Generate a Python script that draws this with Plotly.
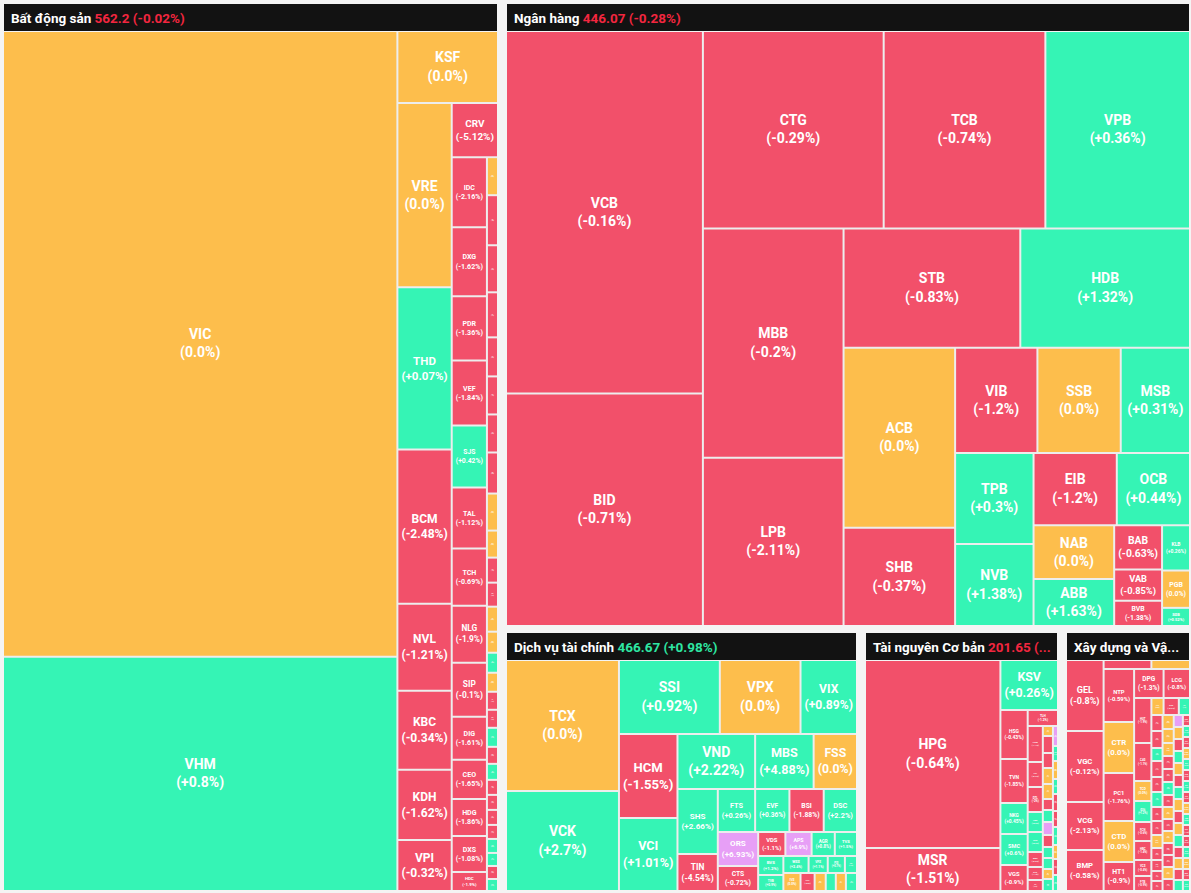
import plotly.graph_objects as go

# ---------------- colours ----------------
RED = "#F2506A"
GREEN = "#35F4B5"
ORANGE = "#FDBE4C"
PURPLE = "#E79FF6"
CYAN = "#5AD2F0"
GAP = "#EDEDED"
BG = "#F4F4F4"
HEAD = "#121212"
UP_TXT = "#2EE6A2"
DOWN_TXT = "#F2263F"
W, H = 1191, 893

# ---------------- data: Bất động sản ----------------
bds_tickers = ["VIC", "VHM", "KSF", "VRE", "THD", "BCM", "NVL", "KBC", "KDH", "VPI", "CRV",
               "IDC", "DXG", "PDR", "VEF", "SJS", "TAL", "TCH", "NLG", "SIP", "DIG", "CEO", "HDG", "DXS", "HDC",
               "NTL", "HQC", "SCR", "ITC", "QCG", "TDC", "LHG", "NBB", "AGG", "CKG", "HAR", "D2D", "TIG", "NVT",
               "API", "LDG", "IJC", "DRH", "HPX", "CRE", "SZC", "NTC", "TDH", "PTL", "VPH", "SGR", "FIR", "DTA", "NHA"]
bds_values = [245000, 91728, 7200, 9936, 8748, 8316, 4698, 4266, 3780, 2754, 2484,
              2450, 2415, 2240, 2275, 2170, 2135, 1995, 1995, 1890, 1505, 1365, 1295, 1260, 665,
              418, 550, 517, 495, 429, 418, 418, 451, 407, 297, 275, 264, 275, 231, 220, 209, 198, 198, 209,
              187, 176, 165, 165, 165, 154, 154, 143, 143, 132]
bds_changes = [0.0, 0.8, 0.0, 0.0, 0.07, -2.48, -1.21, -0.34, -1.62, -0.32, -5.12,
               -2.16, -1.62, -1.36, -1.84, 0.42, -1.12, -0.69, -1.9, -0.1, -1.61, -1.65, -1.86, -1.08, -1.9,
               0.0, -1.52, -0.87, -2.1, -0.45, -1.3, -0.62, -0.95, 0.0, 0.0, -1.15, -0.4, 0.0, 0.0, 0.85, 0.0,
               -2.4, -0.7, 1.2, -0.3, 0.55, -1.8, -0.9, -0.25, -3.1, 0.6, 1.4, -0.5, 2.1]
bds_blocks = [[2], [1], [7], [1], [14, 29]]

# ---------------- data: Ngân hàng ----------------
nh_tickers = ["VCB", "BID", "CTG", "TCB", "VPB", "MBB", "LPB", "STB", "HDB", "ACB", "SHB", "VIB", "SSB",
              "MSB", "TPB", "NVB", "EIB", "OCB", "NAB", "ABB", "BAB", "VAB", "BVB", "KLB", "PGB", "SGB"]
nh_values = [70952, 45472, 35460, 31717, 28368, 32060, 23520, 20944, 20111, 19980, 10878, 8610, 8715,
             7245, 7098, 6396, 5976, 5256, 4320, 3760, 2112, 1488, 1200, 1260, 1036, 504]
nh_changes = [-0.16, -0.71, -0.29, -0.74, 0.36, -0.2, -2.11, -0.83, 1.32, 0.0, -0.37, -1.2, 0.0,
              0.31, 0.3, 1.38, -1.2, 0.44, 0.0, 1.63, -0.63, -0.85, -1.38, 0.26, 0.0, 0.52]
nh_blocks = [[2], [3], [2], [2], [2], [3], [2], [2], [2, 3, 3]]

# ---------------- data: Dịch vụ tài chính ----------------
dv_tickers = ["TCX", "VCK", "SSI", "VPX", "VIX", "HCM", "VCI", "VND", "MBS", "FSS", "SHS", "TIN",
              "FTS", "EVF", "BSI", "DSC", "ORS", "CTS", "VDS", "APS", "AGR", "TVS", "BVS", "TVB",
              "WSS", "VFS", "PSI", "HBS", "IVS", "EVS", "SBS", "APG", "TCI", "VIG"]
dv_values = [14672, 11200, 7400, 5920, 4144, 4872, 4234, 4235, 3190, 2365, 2600, 1480,
             1591, 1462, 1462, 1419, 1360, 1000, 648, 624, 552, 528, 475, 400,
             425, 323, 289, 204, 306, 252, 198, 180, 180, 198]
dv_changes = [0.0, 2.7, 0.92, 0.0, 0.89, -1.55, 1.01, 2.22, 4.88, 0.0, 2.66, -4.54,
              0.26, 0.36, -1.88, 2.2, 6.93, -0.72, -1.1, 6.9, 0.8, 1.5, 1.2, 0.9,
              2.4, 1.1, 0.7, 1.9, 0.0, -0.8, 0.0, 1.6, 0.0, 2.3]
dv_blocks = [[2], [3], [2], [3], [2], [4], [2], [4], [2], [4], [1, 1, 1, 1, 1, 1]]

# ---------------- data: Tài nguyên Cơ bản ----------------
tn_tickers = ["HPG", "MSR", "KSV", "HSG", "TVN", "NKG", "SMC", "VGS", "TLH",
              "POM", "TIS", "DTL", "HMC", "KSB", "BMC", "KSQ", "TNI",
              "VCA", "GDA", "SHI", "TNA", "HSV", "DNY", "MTA", "SSM", "VIF", "BKC", "TKU", "KCB", "MVB",
              "HLA", "SHA", "TNB", "DHA", "CKD", "PAS", "BVG", "VPG", "ACM", "HGM"]
tn_values = [25192, 5762, 2850, 1323, 1188, 837, 837, 702, 480,
             540, 375, 375, 300, 300, 225, 195, 165,
             100, 170, 150, 160, 150, 110, 120, 130, 120, 110, 110, 100, 120,
             100, 75, 90, 75, 85, 80, 90, 70, 80, 80]
tn_changes = [-0.64, -1.51, 0.26, -0.43, -1.85, 0.45, 0.6, -0.9, -1.2,
              -1.1, -0.7, -2.0, 0.5, 0.9, -0.6, -1.4, -0.3,
              0.0, -1.2, -0.8, 0.0, 0.0, -2.3, 1.1, 6.9, -0.5, 0.7, 1.3, 0.0, 2.0,
              6.8, 1.0, 0.0, 0.4, -0.9, -1.6, 0.8, 0.0, -0.7, 1.5]
tn_blocks = [[2], [1], [5], [1], [8, 13, 10]]

# ---------------- data: Xây dựng và Vật liệu ----------------
xd_tickers = ["GEL", "VGC", "VCG", "BMP", "HHV", "CII", "NTP", "CTR", "PC1", "CTD", "HT1", "DPG", "LCG",
              "HUT", "C4G", "TCD", "G36", "FCN", "HBC", "VCS", "PTB", "HTN", "SCG", "VC3",
              "CTI", "HID", "PHC", "L14", "SC5", "C32", "HAS", "TV2", "MST", "VMC", "CVN", "PXI", "DC4",
              "BCE", "HU1", "LM8", "VNE", "SD5", "SD9", "PVX", "TTL", "L18", "HTI", "DID", "VC7", "V12", "CDC",
              "VE9", "SJE", "SDT", "DLG", "QTC", "VHL", "VCC", "BHT", "PEN", "MCO", "L43", "PHH", "SJG", "HLD", "IDV",
              "QNC", "HVX", "CLH", "TMX", "BTS", "CCM", "DCT", "CYC", "HOM", "TXM", "VIT", "SDY", "BTD", "ND2", "MEC", "PCG"]
xd_values = [2627, 2627, 1776, 1517, 423, 342, 1590, 1530, 1440, 1230, 870, 841, 754,
             765, 646, 340, 357, 323, 323, 272, 255, 204, 255, 187,
             176, 187, 143, 176, 165, 165, 154, 154, 143, 132, 121, 110, 110,
             154, 154, 143, 143, 143, 143, 132, 132, 132, 132, 132, 132, 132, 132,
             108, 108, 108, 108, 108, 108, 108, 108, 108, 108, 108, 99, 99, 99, 99,
             77, 77, 77, 77, 77, 77, 77, 77, 77, 77, 77, 77, 77, 77, 77, 77]
xd_changes = [-0.8, -0.12, -2.13, -0.58, -1.0, 0.0, -0.59, 0.0, -1.76, 0.0, -0.9, -1.3, -0.8,
              -1.9, -1.1, 0.0, 1.2, -0.6, -1.4, -0.4, -0.9, 0.0, -0.7, 1.0,
              -1.2, -0.6, 0.9, -2.1, -0.4, 1.5, -0.8, -1.7, 0.0, -0.3, -1.0, -2.5, -0.9,
              0.0, 0.0, 0.0, -1.1, -0.5, 0.7, -1.6, 0.0, -0.9, 0.0, -2.0, -0.4, 0.0, -1.3,
              6.9, 0.0, -0.7, 1.2, 0.0, -1.5, 0.6, 0.0, -0.2, 0.0, 2.2, -1.8, 0.0, -0.6, 0.8,
              -1.4, 1.1, -0.5, 0.0, 0.3, -2.2, 1.8, -0.9, 0.0, 0.5, -1.0, -0.3, 2.6, 0.0, -1.9, 0.4]
xd_blocks = [[4], [2], [5], [2], [8], [3], [13, 14, 15, 16]]

# ---------------- sector headers ----------------
sector_titles = ["Bất động sản", "Ngân hàng", "Dịch vụ tài chính", "Tài nguyên Cơ bản", "Xây dựng và Vậ..."]
sector_points = ["562.2", "446.07", "466.67", "201.65", ""]
sector_moves = ["(-0.02%)", "(-0.28%)", "(+0.98%)", "(...", ""]
sector_up = [False, False, True, False, False]

sectors = [
    (bds_tickers, bds_values, bds_changes, bds_blocks),
    (nh_tickers, nh_values, nh_changes, nh_blocks),
    (dv_tickers, dv_values, dv_changes, dv_blocks),
    (tn_tickers, tn_values, tn_changes, tn_blocks),
    (xd_tickers, xd_values, xd_changes, xd_blocks),
]

# page boxes of each sector panel (left, right, top, bottom) in px
boxes = [(4, 497, 4, 890), (507, 1189, 4, 625), (507, 856, 633, 890),
         (866, 1057, 633, 890), (1067, 1189, 633, 890)]
HEADER_H = 27


def fmt(c):
    return "(0.0%)" if c == 0 else f"({c:+g}%)"


def colour(c):
    if c >= 6.5:
        return PURPLE
    if c <= -6.5:
        return CYAN
    if c > 0:
        return GREEN
    if c < 0:
        return RED
    return ORANGE


def build(prefix, tickers, values, changes, blocks):
    ids, labels, parents, vals, texts, cols = [], [], [], [], [], []

    def add(i, lab, par, v, t, c):
        ids.append(i); labels.append(lab); parents.append(par)
        vals.append(v); texts.append(t); cols.append(c)

    root = prefix
    add(root, "", "", 0, "", GAP)
    container = root
    k = 0
    for s, step in enumerate(blocks):
        for j, n in enumerate(step):
            if n == 1:
                par = container
            else:
                par = f"{prefix}/g{s}_{j}"
                add(par, "", container, 0, "", GAP)
            for _ in range(n):
                add(f"{prefix}/{tickers[k]}", tickers[k], par, values[k], fmt(changes[k]), colour(changes[k]))
                k += 1
        if s < len(blocks) - 1:
            nxt = f"{prefix}/n{s + 1}"
            add(nxt, "", container, 0, "", GAP)
            container = nxt
    return ids, labels, parents, vals, texts, cols


def fx(x):
    return x / W


def fy(y):
    return 1 - y / H


fig = go.Figure()
shapes, annotations = [], []
for idx, ((tick, val, chg, blk), (x0, x1, y0, y1)) in enumerate(zip(sectors, boxes)):
    ids, labels, parents, vals, texts, cols = build(f"s{idx}", tick, val, chg, blk)
    fig.add_trace(go.Treemap(
        ids=ids, labels=labels, parents=parents, values=vals, text=texts,
        branchvalues="remainder", sort=False,
        marker=dict(colors=cols, line=dict(width=0), pad=dict(t=0, l=0, r=0, b=0), depthfade=False),
        root=dict(color=GAP),
        tiling=dict(packing="slice-dice", pad=2),
        pathbar=dict(visible=False),
        texttemplate="<b>%{label}</b><br><b>%{text}</b>",
        textposition="middle center",
        textfont=dict(family="Roboto", size=14, color="white"),
        hoverinfo="skip",
        domain=dict(x=[fx(x0), fx(x1)], y=[fy(y1), fy(y0 + HEADER_H + 1)]),
    ))
    shapes.append(dict(type="rect", xref="paper", yref="paper", x0=fx(x0), x1=fx(x1),
                       y0=fy(y0 + HEADER_H), y1=fy(y0), fillcolor=HEAD, line=dict(width=0), layer="above"))
    ttl = sector_titles[idx]
    if sector_points[idx]:
        c = UP_TXT if sector_up[idx] else DOWN_TXT
        ttl += f" <span style='color:{c}'>{sector_points[idx]} {sector_moves[idx]}</span>"
    annotations.append(dict(text=ttl, xref="paper", yref="paper", x=fx(x0 + 5), y=fy(y0 + HEADER_H / 2 + 0.5),
                            xanchor="left", yanchor="middle", showarrow=False,
                            font=dict(family="Roboto", size=13.5, color="white", weight="bold")))

fig.update_layout(width=W, height=H, margin=dict(l=0, r=0, t=0, b=0),
                  paper_bgcolor=BG, plot_bgcolor=BG, shapes=shapes, annotations=annotations,
                  showlegend=False)

fig.write_html("out.html", config={"displayModeBar": False},
               post_script="document.body.style.margin='0';document.body.style.overflow='hidden';")
